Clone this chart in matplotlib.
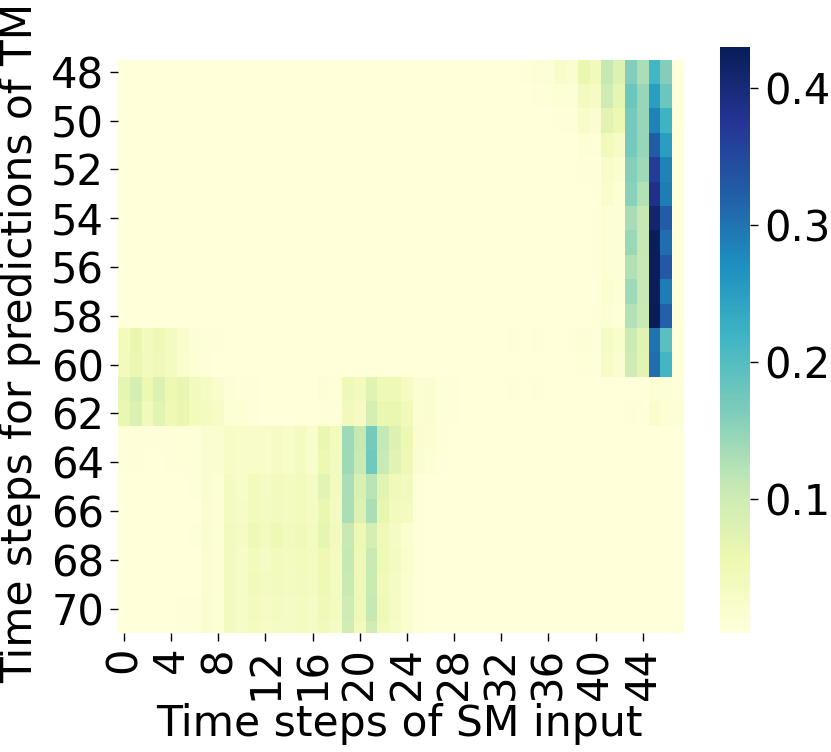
# heatmap of attention weights, SM input vs TM prediction steps
import numpy as np
import matplotlib
matplotlib.use('Agg')
import matplotlib.pyplot as plt

x_ticks = list(range(0, 48, 4))
y_labels = list(range(48, 72))
ylabel = 'Time steps for predictions of TM'
xlabel = 'Time steps of SM input'
vmin = 0.002
vmax = 0.43

# one list per predicted time step, 48 values each
row_48 = [.002]*32 + [.002,.003,.004,.008,.008,.025,.015,.06,.045,.11,.08,.16,.13,.215,.16,.002]
row_49 = [.002]*32 + [.002,.002,.003,.004,.004,.012,.008,.04,.03,.10,.068,.18,.145,.25,.18,.002]
row_50 = [.002]*32 + [.002,.002,.002,.003,.003,.007,.005,.025,.015,.07,.054,.172,.145,.285,.22,.002]
row_51 = [.002]*32 + [.002,.002,.002,.002,.002,.002,.003,.012,.006,.045,.028,.172,.145,.325,.25,.002]
row_52 = [.002]*32 + [.002,.002,.002,.002,.002,.002,.002,.005,.003,.025,.014,.158,.14,.365,.285,.002]
row_53 = [.002]*32 + [.002,.002,.002,.002,.002,.002,.002,.003,.002,.02,.01,.155,.125,.385,.29,.002]
row_54 = [.002]*32 + [.002,.002,.002,.002,.002,.002,.002,.002,.002,.012,.008,.133,.11,.41,.325,.002]
row_55 = [.002]*32 + [.002,.002,.002,.002,.002,.002,.002,.002,.002,.012,.008,.143,.11,.425,.305,.002]
row_56 = [.002]*32 + [.002,.002,.002,.002,.002,.002,.002,.002,.002,.012,.008,.125,.108,.425,.33,.002]
row_57 = [.002]*32 + [.002,.002,.002,.002,.002,.002,.002,.003,.002,.018,.01,.14,.108,.425,.29,.002]
row_58 = [.002]*32 + [.002,.002,.002,.002,.002,.002,.002,.003,.002,.012,.006,.125,.105,.43,.32,.002]
row_59 = [.042,.06,.042,.05,.035,.02,.012,.006,.004,.003,.003,.002,.002,.002] + [.002]*18 + \
         [.002,.004,.002,.004,.003,.003,.004,.008,.004,.032,.02,.105,.075,.30,.195,.003]
row_60 = [.04,.058,.04,.047,.037,.018,.01,.005,.003,.003,.002,.002,.002,.002] + [.002]*18 + \
         [.002,.002,.002,.002,.003,.003,.003,.006,.004,.028,.016,.10,.07,.305,.215,.003]
row_61 = [.068,.09,.055,.078,.055,.063,.04,.032,.022,.008,.006,.005,.003,.003,
          .003,.003,.003,.01,.006,.05,.04,.075,.05,.05,.033,.013,.016,.006,.004,.003,.002,.002,
          .002,.005,.002,.005,.002,.002,.002,.002,.002,.002,.002,.003,.002,.012,.008,.006]
row_62 = [.06,.082,.045,.072,.052,.062,.042,.034,.028,.012,.01,.005,.003,.003,
          .003,.003,.003,.007,.005,.045,.033,.09,.06,.06,.043,.013,.016,.006,.004,.003,.002,.002,
          .002,.003,.002,.003,.002,.002,.003,.002,.002,.002,.002,.005,.003,.02,.012,.01]
row_63 = [.004,.004,.004,.004,.004,.007,.007,.016,.015,.027,.025,.025,.025,.03,
          .025,.034,.02,.06,.042,.14,.11,.17,.11,.078,.055,.015,.013,.006] + [.002]*20
row_64 = [.004,.004,.003,.003,.004,.007,.007,.018,.015,.027,.025,.025,.025,.03,
          .025,.034,.02,.055,.04,.14,.105,.175,.105,.075,.052,.015,.012,.005] + [.002]*20
row_65 = [.002,.002,.002,.002,.002,.002,.004,.016,.01,.034,.024,.042,.032,.04,
          .034,.042,.031,.072,.04,.13,.085,.12,.072,.048,.038,.006,.003,.003] + [.002]*20
row_66 = [.002,.002,.002,.002,.002,.002,.003,.015,.009,.035,.027,.042,.034,.038,
          .034,.042,.031,.06,.036,.13,.08,.13,.065,.04,.035,.006,.003,.003] + [.002]*20
row_67 = [.002,.002,.002,.002,.002,.002,.004,.016,.009,.04,.03,.05,.04,.05,
          .038,.046,.034,.068,.038,.108,.055,.09,.052,.03,.018,.006,.003,.002] + [.002]*20
row_68 = [.002,.002,.002,.002,.002,.002,.003,.015,.01,.038,.027,.042,.032,.042,
          .034,.042,.034,.052,.034,.11,.052,.105,.05,.035,.02,.006,.003,.002] + [.002]*20
row_69 = [.002,.002,.002,.002,.002,.002,.003,.015,.01,.038,.027,.044,.034,.038,
          .034,.038,.034,.05,.034,.105,.05,.105,.048,.03,.018,.005,.003,.002] + [.002]*20
row_70 = [.002,.002,.002,.002,.002,.004,.006,.015,.012,.038,.026,.038,.03,.034,
          .031,.036,.03,.048,.034,.10,.05,.11,.05,.03,.018,.005,.002,.002] + [.002]*20
row_71 = [.002,.002,.002,.002,.003,.005,.007,.015,.012,.038,.026,.036,.028,.032,
          .03,.034,.03,.045,.032,.095,.045,.095,.045,.028,.016,.004,.002,.002] + [.002]*20

weights = np.array([row_48, row_49, row_50, row_51, row_52, row_53, row_54, row_55,
                    row_56, row_57, row_58, row_59, row_60, row_61, row_62, row_63,
                    row_64, row_65, row_66, row_67, row_68, row_69, row_70, row_71])

W, H = 831, 752
fs = 30.6
fig = plt.figure(figsize=(W/100, H/100), dpi=100)
ax = fig.add_axes([118/W, 1-633/H, 566/W, 573.5/H])
mesh = ax.pcolormesh(weights, cmap='YlGnBu', vmin=vmin, vmax=vmax, linewidth=0)
ax.set_ylim(23.5, 0)  # bottom row is cut in half in the original
ax.set_xlim(0, 48)
for s in ax.spines.values():
    s.set_visible(False)

ax.set_xticks(np.array(x_ticks) + 0.5)
ax.set_xticklabels(x_ticks, rotation=90, fontsize=30)
ax.set_yticks(np.arange(0, 24, 2) + 0.5)
ax.set_yticklabels(y_labels[::2], rotation=0, fontsize=30)
ax.tick_params(length=6, width=1, pad=4)
fig.text(399/W, 1-724/H, xlabel, fontsize=fs, ha='center', va='center')
fig.text(20/W, 1-343/H, ylabel, fontsize=30.4, ha='center', va='center', rotation=90)

cax = fig.add_axes([720/W, 1-633/H, 30/W, 586/H])
cb = fig.colorbar(mesh, cax=cax)
cb.outline.set_visible(False)
cb.set_ticks([0.1, 0.2, 0.3, 0.4])
cb.ax.tick_params(labelsize=30, length=6, width=1, pad=4)

fig.savefig('out.png', dpi=100)
